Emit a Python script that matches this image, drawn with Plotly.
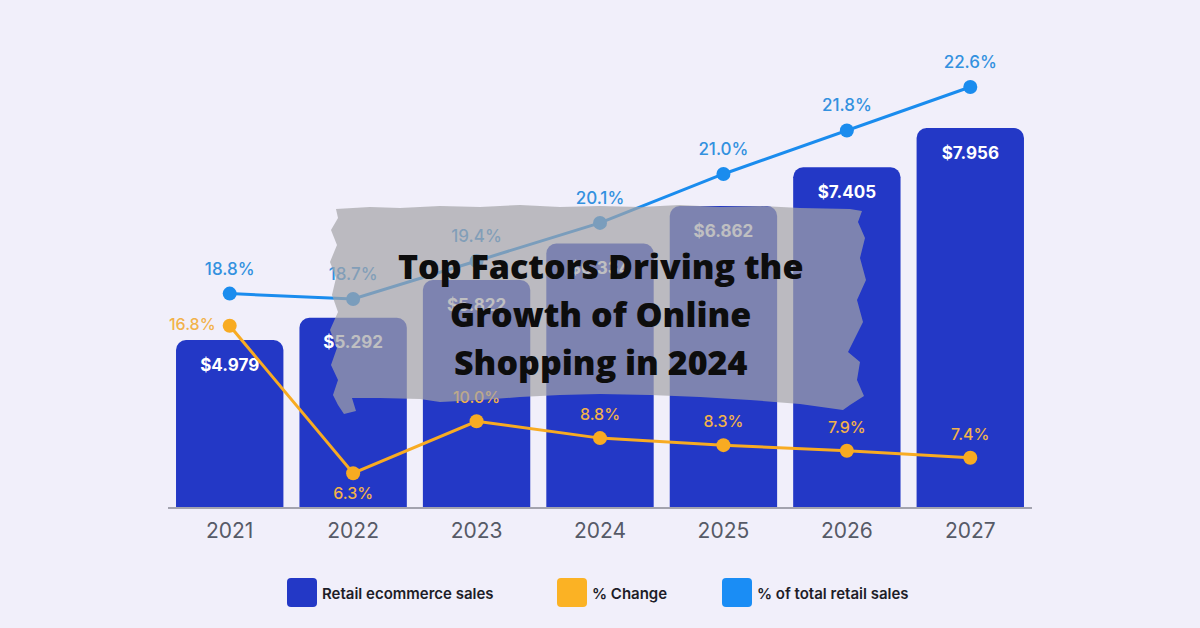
import plotly.graph_objects as go

# ---------------- data ----------------
years = ["2021", "2022", "2023", "2024", "2025", "2026", "2027"]
sales = [4.979, 5.292, 5.822, 6.334, 6.862, 7.405, 7.956]          # $ trillions
pct_change = [16.8, 6.3, 10.0, 8.8, 8.3, 7.9, 7.4]                  # % change
pct_total = [18.8, 18.7, 19.4, 20.1, 21.0, 21.8, 22.6]              # % of total retail
series_names = ["Retail ecommerce sales", "% Change", "% of total retail sales"]
title_lines = ["Top Factors Driving the", "Growth of Online", "Shopping in 2024"]

# ---------------- style ----------------
W, H = 1200, 628
L, R, T, B = 168, 168, 60, 121
PW, PH = W - L - R, H - T - B
BG = "#f1effa"
BAR = "#2338c6"
ORANGE = "#f8ab22"
BLUE = "#1a8cee"
ORANGE_TXT = "#f2b24a"
BLUE_TXT = "#3391df"
FONT = "Inter"


def px(x):
    return (x - L) / PW


def py(y):
    return (H - B - y) / PH


fig = go.Figure()

# bars
fig.add_trace(go.Bar(
    x=years, y=sales, marker=dict(color=BAR, cornerradius=10, line_width=0),
    width=0.87, yaxis="y", hoverinfo="skip", name=series_names[0], showlegend=False,
))
# bar value labels
fig.add_trace(go.Scatter(
    x=years, y=sales, mode="markers+text", yaxis="y",
    text=[f"${v:.3f}" for v in sales], textposition="bottom center",
    textfont=dict(family=FONT, size=17, color="white", weight="bold"),
    marker=dict(size=27, opacity=0), hoverinfo="skip", showlegend=False, cliponaxis=False,
))

# % of total line
fig.add_trace(go.Scatter(
    x=years, y=pct_total, mode="lines+markers", yaxis="y2",
    line=dict(color=BLUE, width=3), marker=dict(color=BLUE, size=14),
    hoverinfo="skip", name=series_names[2], showlegend=False, cliponaxis=False,
))
fig.add_trace(go.Scatter(
    x=years, y=pct_total, mode="markers+text", yaxis="y2",
    text=[f"{v:.1f}%" for v in pct_total], textposition="top center",
    textfont=dict(family=FONT, size=17, color=BLUE_TXT, weight=500),
    marker=dict(size=22, opacity=0), hoverinfo="skip", showlegend=False, cliponaxis=False,
))

# % change line
fig.add_trace(go.Scatter(
    x=years, y=pct_change, mode="lines+markers", yaxis="y3",
    line=dict(color=ORANGE, width=3), marker=dict(color=ORANGE, size=14),
    hoverinfo="skip", name=series_names[1], showlegend=False, cliponaxis=False,
))
chg_pos = ["middle left", "bottom center"] + ["top center"] * 5
fig.add_trace(go.Scatter(
    x=years, y=pct_change, mode="markers+text", yaxis="y3",
    text=[f"{v:.1f}%" for v in pct_change], textposition=chg_pos,
    textfont=dict(family=FONT, size=16, color=ORANGE_TXT, weight=500),
    marker=dict(size=21, opacity=0), hoverinfo="skip", showlegend=False, cliponaxis=False,
))

# ---------------- banner (torn paper) ----------------
banner_pts = [
    (336, 209), (370, 207), (400, 208), (440, 206), (480, 207), (520, 205), (560, 207), (600, 206),
    (640, 207), (680, 205), (720, 207), (760, 206), (800, 208), (850, 209), (862, 211),
    (858, 222), (865, 238), (860, 258), (866, 280), (857, 300), (863, 322), (855, 338), (848, 352),
    (860, 362), (857, 380), (864, 396), (850, 405), (843, 410),
    (800, 404), (750, 400), (700, 397), (650, 395), (600, 394), (560, 395), (520, 397), (480, 400),
    (440, 402), (420, 399), (380, 398), (352, 398), (356, 411), (344, 414), (338, 405),
    (333, 395), (338, 380), (331, 365), (337, 348), (330, 330), (338, 312), (332, 295), (336, 278),
    (330, 262), (337, 245), (331, 230), (338, 218),
]
path = "M " + " L ".join(f"{px(x):.5f},{py(y):.5f}" for x, y in banner_pts) + " Z"
shapes = [dict(type="path", path=path, xref="paper", yref="paper", layer="above",
               fillcolor="rgba(164,164,167,0.70)", line=dict(width=0))]

annotations = []
for i, line in enumerate(title_lines):
    annotations.append(dict(
        x=px(600), y=py(266 + 48 * i), xref="paper", yref="paper", text=line, showarrow=False,
        xanchor="center", yanchor="middle",
        font=dict(family="Open Sans", size=34, color="#0d0d0d", weight=800),
    ))

# ---------------- custom legend ----------------
legend_colors = [BAR, "#fbb224", "#1a8df5"]
legend_x = [287, 557, 722]
for name, col, lx in zip(series_names, legend_colors, legend_x):
    shapes.append(dict(type="path", xref="paper", yref="paper", layer="above",
                       fillcolor=col, line=dict(width=0),
                       path=(f"M {px(lx+4)},{py(578)} L {px(lx+26)},{py(578)} Q {px(lx+30)},{py(578)} {px(lx+30)},{py(582)} "
                             f"L {px(lx+30)},{py(603)} Q {px(lx+30)},{py(607)} {px(lx+26)},{py(607)} "
                             f"L {px(lx+4)},{py(607)} Q {px(lx)},{py(607)} {px(lx)},{py(603)} "
                             f"L {px(lx)},{py(582)} Q {px(lx)},{py(578)} {px(lx+4)},{py(578)} Z")))
    annotations.append(dict(
        x=px(lx + 33), y=py(593), xref="paper", yref="paper", text=name, showarrow=False,
        xanchor="left", yanchor="middle",
        font=dict(family=FONT, size=15, color="#1d1d28", weight=600),
    ))

fig.update_layout(
    width=W, height=H, margin=dict(l=L, r=R, t=T, b=B, autoexpand=False),
    paper_bgcolor=BG, plot_bgcolor=BG, showlegend=False, bargap=0.13,
    xaxis=dict(type="category", range=[-0.5, 6.5], showgrid=False, zeroline=False,
               showline=True, linecolor="#a3a3ae", linewidth=2, ticks="",
               ticklabelstandoff=4,
               tickfont=dict(family=FONT, size=21, color="#565a67")),
    yaxis=dict(range=[2.634, 8.912], visible=False, showgrid=False, zeroline=False),
    yaxis2=dict(range=[14.876, 23.096], overlaying="y", visible=False, showgrid=False, zeroline=False),
    yaxis3=dict(range=[3.898, 35.71], overlaying="y", visible=False, showgrid=False, zeroline=False),
    yaxis4=dict(range=[0, PH / 103], dtick=1, overlaying="y", showgrid=True, gridcolor="#fbfaff",
                gridwidth=1.5, showticklabels=False, zeroline=False, showline=False, ticks=""),
    shapes=shapes, annotations=annotations,
)

fig.write_html("out.html")
